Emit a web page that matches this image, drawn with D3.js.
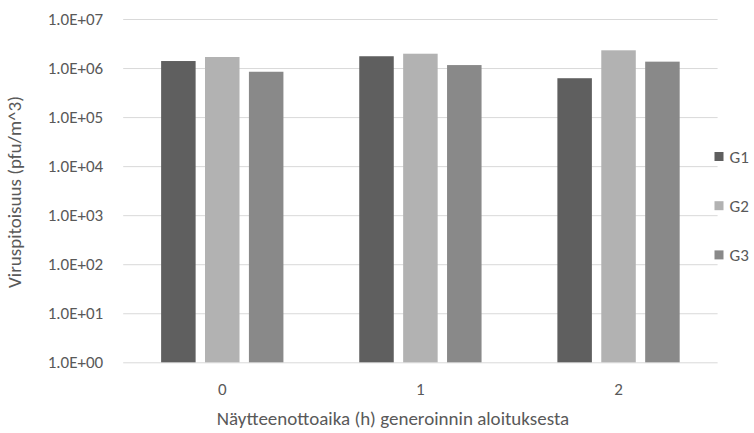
<!DOCTYPE html>
<html>
<head>
<meta charset="utf-8">
<script src="https://cdn.jsdelivr.net/npm/d3@7/dist/d3.min.js"></script>
<style>
  html, body { margin: 0; padding: 0; background: #ffffff; }
  svg { display: block; }
  text { font-family: Carlito, Lato, "Noto Sans", sans-serif; fill: #595959; }
</style>
</head>
<body>
<svg id="chart" width="754" height="433"></svg>
<script>
// Sampling times (h) since start of generation
const categories = ["0", "1", "2"];
const seriesNames = ["G1", "G2", "G3"];
// Virus concentration (pfu/m^3) per series, one value per sampling time
const g1Values = [1.39e6, 1.74e6, 6.2e5];
const g2Values = [1.68e6, 1.96e6, 2.30e6];
const g3Values = [8.4e5, 1.15e6, 1.35e6];
const seriesValues = [g1Values, g2Values, g3Values];
const seriesColors = ["#5f5f5f", "#b2b2b2", "#898989"];
const yTickValues = [1e0, 1e1, 1e2, 1e3, 1e4, 1e5, 1e6, 1e7];
const yTitle = "Viruspitoisuus (pfu/m^3)";
const xTitle = "Näytteenottoaika (h) generoinnin aloituksesta";

const svg = d3.select("#chart");
const plot = { left: 123.2, right: 717.6, top: 19, bottom: 362.3 };

const y = d3.scaleLog().domain([1, 1e7]).range([plot.bottom, plot.top]);
const x0 = d3.scaleBand().domain(categories).range([plot.left, plot.right]).padding(0);
const x1 = d3.scaleBand().domain(seriesNames).range([-61.15, 61.15]).paddingInner(0.214).paddingOuter(0);

// Horizontal gridlines with scientific-notation labels
const yAxis = d3.axisLeft(y)
  .tickValues(yTickValues)
  .tickSize(-(plot.right - plot.left))
  .tickPadding(20)
  .tickFormat(d => {
    const e = Math.round(Math.log10(d));
    return "1.0E+" + String(e).padStart(2, "0");
  });

const gy = svg.append("g")
  .attr("transform", `translate(${plot.left},0)`)
  .call(yAxis);
gy.select(".domain").remove();
gy.selectAll(".tick line").attr("stroke", "#d9d9d9").attr("stroke-width", 1);
gy.selectAll(".tick text")
  .attr("font-size", "17px")
  .style("font-family", "Carlito, Lato, 'Noto Sans', sans-serif")
  .style("fill", "#595959");

// Bars
const groups = svg.append("g").selectAll("g")
  .data(categories)
  .join("g")
  .attr("transform", d => `translate(${x0(d) + x0.bandwidth() / 2},0)`);

groups.selectAll("rect")
  .data((c, i) => seriesNames.map((s, k) => ({ s, k, v: seriesValues[k][i] })))
  .join("rect")
  .attr("x", d => x1(d.s))
  .attr("width", x1.bandwidth())
  .attr("y", d => y(d.v))
  .attr("height", d => plot.bottom - y(d.v))
  .attr("fill", d => seriesColors[d.k]);

// Category labels
const xAxis = d3.axisBottom(x0).tickSize(0).tickPadding(21);
const gx = svg.append("g")
  .attr("transform", `translate(0,${plot.bottom})`)
  .call(xAxis);
gx.select(".domain").remove();
gx.selectAll(".tick text")
  .attr("font-size", "17px")
  .style("font-family", "Carlito, Lato, 'Noto Sans', sans-serif")
  .style("fill", "#595959");

// Axis titles
svg.append("text")
  .attr("x", 393)
  .attr("y", 425)
  .attr("text-anchor", "middle")
  .attr("font-size", "19px")
  .text(xTitle);

svg.append("text")
  .attr("transform", "translate(21,192) rotate(-90)")
  .attr("text-anchor", "middle")
  .attr("font-size", "19px")
  .text(yTitle);

// Legend
const legend = svg.append("g").selectAll("g")
  .data(seriesNames)
  .join("g")
  .attr("transform", (d, i) => `translate(714.5,${156.5 + i * 49.2})`);
legend.append("rect")
  .attr("x", 0).attr("y", -4.5)
  .attr("width", 9).attr("height", 9)
  .attr("fill", (d, i) => seriesColors[i]);
legend.append("text")
  .attr("x", 15).attr("y", 6)
  .attr("font-size", "17px")
  .text(d => d);
</script>
</body>
</html>
